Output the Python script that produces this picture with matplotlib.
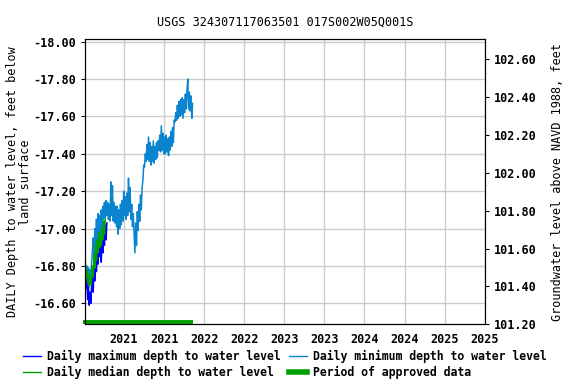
import numpy as np
import matplotlib.pyplot as plt
from matplotlib.lines import Line2D

plt.rcParams['font.family'] = 'DejaVu Sans Mono'
plt.rcParams['font.weight'] = 'bold'

# decimal years and depths (feet below land surface, negative)
min_years = np.round(np.arange(2020.515, 2021.856, 0.01), 3)
min_depth = [
    -16.84, -16.74, -16.80, -16.72, -16.79, -16.71, -16.78, -16.72, -16.82, -16.88,
    -16.95, -16.85, -17.00, -16.91, -17.05, -16.94, -17.08, -16.98, -17.07, -16.97,
    -17.10, -17.00, -17.12, -17.05, -17.14, -17.06, -17.15, -17.07, -17.14, -17.05,
    -17.13, -17.04, -17.25, -17.07, -17.23, -17.04, -17.14, -17.03, -17.12, -17.01,
    -17.12, -16.97, -17.10, -17.00, -17.13, -17.02, -17.15, -17.04, -17.20, -17.07,
    -17.17, -17.05, -17.19, -17.07, -17.27, -17.09, -17.22, -17.05, -17.13, -17.01,
    -17.08, -16.98, -16.87, -17.03, -16.91, -17.09, -16.99, -17.13, -17.04, -17.18,
    -17.10, -17.22, -17.26, -17.34, -17.33, -17.40, -17.36, -17.45, -17.37, -17.49,
    -17.36, -17.46, -17.34, -17.44, -17.36, -17.47, -17.35, -17.44, -17.37, -17.46,
    -17.38, -17.47, -17.42, -17.50, -17.41, -17.55, -17.42, -17.51, -17.40, -17.49,
    -17.40, -17.50, -17.41, -17.48, -17.39, -17.49, -17.42, -17.52, -17.44, -17.54,
    -17.46, -17.58, -17.57, -17.62, -17.58, -17.66, -17.59, -17.68, -17.60, -17.69,
    -17.61, -17.70, -17.59, -17.69, -17.62, -17.72, -17.64, -17.74, -17.80, -17.64,
    -17.73, -17.63, -17.71, -17.59, -17.67,
]

max_years = np.round(np.arange(2020.515, 2020.786, 0.01), 3)
max_depth = [
    -16.78, -16.68, -16.74, -16.62, -16.69, -16.59, -16.66, -16.60, -16.70, -16.74,
    -16.66, -16.82, -16.72, -16.86, -16.77, -16.90, -16.81, -16.94, -16.85, -16.92,
    -16.82, -16.96, -16.87, -16.99, -16.91, -17.02, -16.94, -17.03,
]

med_years = np.round(np.arange(2020.515, 2020.766, 0.01), 3)
med_depth = [
    -16.81, -16.75, -16.78, -16.71, -16.76, -16.69, -16.74, -16.70, -16.76, -16.80,
    -16.74, -16.86, -16.79, -16.91, -16.83, -16.94, -16.87, -16.98, -16.90, -16.96,
    -16.91, -17.00, -16.94, -17.04, -16.97, -17.05,
]

approved_period = [2020.484, 2021.859]

xticks = [2021, 2021.5, 2022, 2022.5, 2023, 2023.5, 2024, 2024.5, 2025, 2025.5]
xticklabels = ['2021', '2021', '2022', '2022', '2023', '2023', '2024', '2024', '2025', '2025']
left_ticks = [-18.0, -17.8, -17.6, -17.4, -17.2, -17.0, -16.8, -16.6]
right_ticks = [101.2, 101.4, 101.6, 101.8, 102.0, 102.2, 102.4, 102.6]

fig = plt.figure(figsize=(5.76, 3.84), dpi=100)
ax = fig.add_axes([0.1476, 0.1555, 0.6944, 0.7422])

ax.plot(max_years, max_depth, color='#0000ff', lw=1.1)
ax.plot(min_years, min_depth, color='#0b84cf', lw=1.1)
ax.plot(med_years, med_depth, color='#00a000', lw=1.1)
ax.plot(approved_period, [-16.501, -16.501], color='#00a000', lw=2.8,
        solid_capstyle='butt', clip_on=False)

ax.set_xlim(2020.5125, 2025.504)
ax.set_ylim(-16.488, -18.013)
ax.set_xticks(xticks)
ax.set_xticklabels(xticklabels)
ax.set_yticks(left_ticks)
ax.set_yticklabels(['%.2f' % v for v in left_ticks])
ax.grid(True, color='#cccccc', lw=1)
ax.set_axisbelow(True)
ax.tick_params(axis='x', length=0, labelsize=8.5, pad=6)
ax.tick_params(axis='y', direction='out', length=3, labelsize=8.5)
ax.set_ylabel('DAILY Depth to water level, feet below\nland surface', fontsize=8.5,
              labelpad=1, linespacing=0.95)
ax.set_title('USGS 324307117063501 017S002W05Q001S', fontsize=8.5, pad=10)

ax2 = ax.twinx()
ax2.set_ylim(101.205, 102.705)
ax2.set_yticks(right_ticks)
ax2.set_yticklabels(['%.2f' % v for v in right_ticks])
ax2.tick_params(axis='y', direction='out', length=3, labelsize=8.5)
ax2.set_ylabel('Groundwater level above NAVD 1988, feet', fontsize=8.5, labelpad=10)

handles = [
    Line2D([], [], color='#0000ff', lw=1),
    Line2D([], [], color='#00a000', lw=1),
    Line2D([], [], color='#0b84cf', lw=1),
    Line2D([], [], color='#00a000', lw=4),
]
labels = [
    'Daily maximum depth to water level',
    'Daily median depth to water level',
    'Daily minimum depth to water level',
    'Period of approved data',
]
fig.legend(handles, labels, loc='lower left', bbox_to_anchor=(0.0394, 0.012), ncol=2,
           frameon=False, fontsize=8.3, handlelength=1.55, columnspacing=0.75,
           handletextpad=0.52, labelspacing=0.3, borderpad=0, borderaxespad=0)

fig.savefig('out.png', dpi=100)
